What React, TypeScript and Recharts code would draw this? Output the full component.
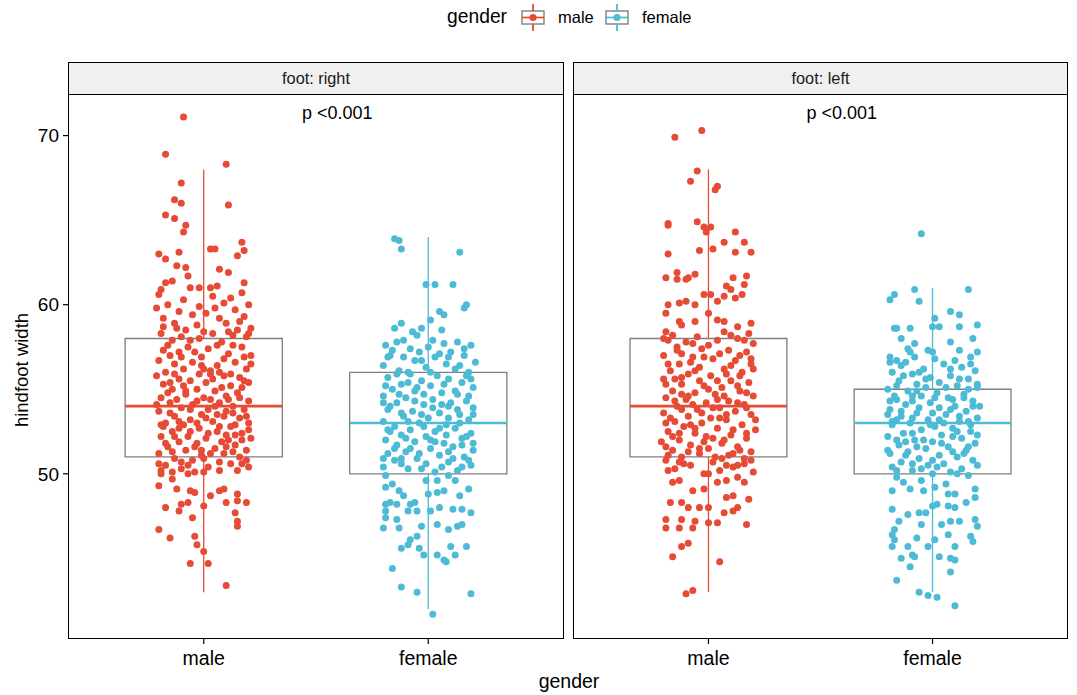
import React from 'react';
import { ComposedChart, Scatter, XAxis, YAxis, ReferenceArea, ReferenceLine, ReferenceDot } from 'recharts';

const FONT = "'Liberation Sans', Arial, Helvetica, sans-serif";
const RED = '#E64B35';
const BLUE = '#4DBBD5';
const BOX_GRAY = '#7F7F7F';

const categories = ['male', 'female'];
const facetLabels = ['foot: right', 'foot: left'];
const yTicks = [50, 60, 70];
const yDomain = [40.29, 72.46];
const pLabel = 'p <0.001';

// box stats: [lower whisker, Q1, median, Q3, upper whisker]
const rightMaleBox = [43, 51, 54, 58, 68];
const rightFemaleBox = [42, 50, 53, 56, 64];
const leftMaleBox = [43, 51, 54, 58, 68];
const leftFemaleBox = [43, 50, 53, 55, 61];

// jittered points: [horizontal jitter (category units), hindfoot width]
const rightMalePts: number[][] = [
  [-0.09,71.1],[-0.17,68.9],[0.10,68.3],[-0.10,67.2],[-0.13,66.2],[-0.10,66.0],[0.11,65.9],[-0.17,65.3],[-0.13,65.1],[-0.08,64.7],[-0.09,64.3],[0.17,63.7],[0.18,63.2],[0.03,63.3],[0.05,63.3],[-0.11,63.1],[-0.20,63.0],[0.15,62.9],[-0.17,62.7],[-0.12,62.3],[-0.08,62.2],[0.07,62.1],[-0.07,61.7],[0.11,61.9],[-0.14,61.4],[-0.17,61.3],[0.18,61.3],[-0.19,60.9],[-0.06,61.0],[-0.02,61.0],[0.03,61.0],[0.06,61.1],
  [0.10,43.4],[-0.06,44.7],[0.02,44.7],[0.0,45.4],[-0.03,45.8],[-0.04,46.3],[-0.15,46.2],[-0.20,46.7],[0.15,46.9],[0.15,47.2],[-0.17,48.0],[-0.05,47.4],[0.14,47.7],[-0.11,47.8],[-0.10,48.2],[0.19,48.3],[0.10,48.3],[0.15,48.4],[0.0,48.1],[-0.07,48.3],[-0.20,49.3],[-0.12,49.1],[0.03,48.7],[-0.04,48.9],[-0.06,49.0],[0.15,48.8],[0.07,49.0],[0.09,49.1],[-0.14,49.7],[-0.19,50.0],[-0.19,50.2],[-0.07,50.0],[-0.04,50.1],[0.0,50.1],
  [-0.20,60.6],[-0.09,60.3],[0.04,60.5],[0.12,60.4],[0.17,60.7],
  [-0.16,60.0],[-0.02,59.9],[0.09,60.1],[0.20,60.0],[-0.11,59.6],[0.14,59.7],
  [-0.05,59.4],[0.01,59.5],[0.18,59.3],[-0.18,59.2],[0.07,59.2],
  [-0.13,58.9],[-0.03,58.8],[0.10,58.9],[0.16,59.0],[0.21,58.6],[-0.08,58.5],
  [-0.19,58.3],[0.04,58.3],[0.13,58.2],[-0.02,58.0],[0.19,58.1],[-0.14,57.9],[0.08,57.8],
  [-0.16,57.6],[-0.07,57.5],[0.02,57.4],[0.17,57.5],[-0.11,57.2],[0.11,57.1],[0.21,57.0],[-0.01,56.9],
  [-0.20,56.7],[-0.13,56.5],[-0.05,56.6],[0.06,56.4],[0.14,56.6],[-0.09,56.2],[0.03,56.1],[0.19,56.2],[-0.17,56.0],
  [-0.02,55.9],[0.09,55.8],[0.16,55.7],[-0.11,55.6],[-0.06,55.5],[0.01,55.4],[0.20,55.4],[-0.18,55.3],[0.12,55.2],
  [-0.14,55.0],[-0.03,55.0],[0.05,54.9],[0.15,54.8],[-0.08,54.7],[0.10,54.6],[-0.19,54.5],[0.00,54.5],[0.20,54.3],
  [-0.15,54.2],[-0.05,54.1],[0.07,54.2],[0.13,54.0],[-0.10,53.9],[0.02,53.8],[0.18,53.8],[-0.20,53.7],[-0.01,53.5],
  [-0.13,53.4],[0.09,53.4],[0.16,53.3],[-0.06,53.2],[0.04,53.1],[-0.17,53.0],[0.20,53.0],[-0.09,52.9],[0.12,52.8],
  [-0.02,52.7],[-0.14,52.5],[0.06,52.5],[0.17,52.4],[-0.19,52.2],[-0.07,52.2],[0.01,52.1],[0.11,52.0],[0.21,52.1],
  [-0.11,51.9],[-0.03,51.8],[0.14,51.7],[-0.16,51.6],[0.05,51.5],[0.19,51.4],[-0.08,51.4],[-0.20,51.2],[0.09,51.2],
  [-0.01,51.1],[0.16,51.0],[-0.13,50.9],[-0.05,50.8],[0.07,50.7],[0.12,50.6],[-0.17,50.5],[0.20,50.4],[0.02,50.4],[-0.10,50.3],[0.15,50.2],
  [-0.18,58.7],[0.00,58.4],[0.15,58.5],[-0.10,58.1],[0.06,57.6],[-0.04,57.2],[0.18,56.9],[-0.15,57.0],[0.09,56.8],[-0.01,56.4],[0.12,55.9],[-0.13,55.9],[0.04,55.6],[-0.21,55.8],[0.17,55.1],[-0.09,55.2],[0.08,55.1],[-0.16,54.8],[0.03,54.4],[-0.12,54.4],[0.16,54.5],[-0.06,53.8],[0.10,53.7],[-0.15,53.6],[0.06,53.5],[-0.03,53.0],[0.14,52.9],[-0.11,52.7],[0.02,52.4],[-0.18,52.8],[0.10,52.3],[-0.04,51.6],[0.17,52.0],[-0.14,51.3],[0.08,51.9],[0.00,50.9],[0.19,50.8],[-0.20,50.6],[-0.07,50.5],[0.13,51.3],
  [-0.21,59.8],[0.05,59.8],[-0.12,58.6],[0.11,58.4],[-0.06,57.9],[0.20,58.3],[-0.18,57.3],[0.13,57.6],[0.00,56.2],[-0.10,56.9],[0.07,56.0],[0.21,56.5],[-0.15,55.4],[0.03,55.9],[0.18,55.5],[-0.08,54.9],[0.11,54.4],[-0.21,54.1],[0.05,54.0],[-0.03,54.3],[0.19,53.4],[-0.11,53.1],[0.01,53.3],[0.13,53.6],[-0.19,52.9],[0.07,52.8],[-0.06,52.5],[0.20,52.6],[-0.13,52.2],[0.14,52.3],[-0.01,51.4],[0.10,51.6],[-0.17,51.8],[0.03,51.2],[-0.10,50.7],[0.17,50.6],[0.07,50.2],[-0.14,50.1],
];

const rightFemalePts: number[][] = [
  [-0.15,63.9],[-0.13,63.8],[-0.12,63.3],[0.14,63.1],[-0.01,61.2],[0.03,61.2],[0.11,61.2],[0.17,60.0],[0.16,59.8],[0.05,59.6],[0.07,59.4],[0.01,59.1],[0.06,58.5],[-0.12,58.9],[-0.15,58.6],[-0.07,58.4],[-0.05,58.2],[-0.03,58.6],
  [0.02,41.7],[-0.05,43.0],[-0.12,43.3],[0.19,42.9],[-0.16,44.4],[0.08,44.8],[0.07,44.9],[0.04,45.2],[0.12,45.2],[-0.02,45.2],[-0.12,45.6],[-0.09,45.8],[-0.08,46.1],[-0.05,46.3],[-0.04,45.6],[0.10,45.7],[0.17,45.7],
  [-0.20,46.8],[-0.13,46.8],[-0.03,46.9],[0.04,47.0],[0.09,46.7],[0.13,46.9],[0.15,47.0],[0.19,47.7],[-0.19,47.4],[-0.19,47.8],[-0.14,47.3],[-0.09,47.8],[-0.05,47.8],[0.01,47.8],[0.05,48.0],[0.11,47.9],[0.15,47.9],
  [0.18,49.1],[0.14,48.7],[-0.19,48.2],[-0.17,48.3],[-0.14,48.2],[-0.08,48.2],[-0.06,48.3],[-0.13,49.0],[-0.11,48.7],[0.00,48.8],[0.04,48.9],[0.07,49.0],[-0.19,49.2],[-0.16,49.4],[-0.01,49.6],[0.04,49.6],[0.09,49.9],
  [-0.19,57.6],[-0.14,57.8],[-0.08,57.4],[0.00,57.5],[0.07,57.7],[0.13,57.8],[0.19,57.6],[-0.04,57.2],[0.10,57.2],
  [-0.17,57.0],[-0.11,56.9],[0.03,56.9],[0.16,57.0],[-0.06,56.7],[0.21,56.6],[0.08,56.5],[-0.20,56.4],[-0.01,56.3],
  [-0.13,56.1],[0.12,56.2],[0.18,56.0],[-0.08,55.9],[0.04,55.8],[-0.18,55.7],[0.09,55.6],[-0.03,55.5],[0.15,55.4],[-0.12,55.3],
  [0.01,55.2],[0.20,55.1],[-0.16,55.0],[-0.06,54.9],[0.06,54.8],[0.13,54.7],[-0.20,54.6],[-0.10,54.5],[0.02,54.4],[0.17,54.3],
  [-0.14,54.2],[-0.02,54.1],[0.09,54.0],[0.20,53.9],[-0.18,53.8],[-0.07,53.7],[0.05,53.6],[0.14,53.5],[-0.11,53.4],[0.00,53.3],
  [0.18,53.2],[-0.20,53.1],[-0.04,53.0],[0.08,52.9],[-0.15,52.8],[0.12,52.7],[-0.08,52.6],[0.03,52.5],[0.19,52.4],[-0.12,52.3],
  [-0.01,52.2],[0.15,52.1],[-0.19,52.0],[-0.06,51.9],[0.07,51.8],[-0.14,51.7],[0.11,51.6],[0.01,51.5],[0.20,51.4],[-0.10,51.3],
  [-0.18,51.2],[0.05,51.1],[0.16,51.0],[-0.05,50.9],[-0.15,50.8],[0.09,50.7],[-0.01,50.6],[0.19,50.5],[-0.20,50.4],[-0.09,50.3],[0.13,50.2],[0.03,50.1],
  [-0.16,57.3],[0.05,57.1],[-0.09,56.0],[0.17,55.8],[-0.05,55.1],[0.10,54.2],[-0.17,54.0],[0.02,53.9],[-0.09,53.1],[0.14,53.0],[-0.02,52.8],[0.08,52.3],[-0.17,52.5],[-0.08,51.5],[0.15,51.7],[0.03,51.9],[-0.12,50.6],[0.11,50.9],[-0.03,50.3],[0.18,50.8],[-0.19,49.9],[0.12,49.6],
  [-0.11,57.9],[0.02,57.9],[0.16,57.4],[-0.18,56.9],[0.09,56.9],[-0.03,56.7],[0.14,56.4],[-0.14,55.9],[0.01,56.0],[0.19,55.6],[-0.09,55.4],[0.07,55.3],[-0.19,55.2],[0.12,54.9],[-0.02,54.7],[-0.13,54.7],[0.18,54.6],[0.06,54.1],[-0.06,54.3],[-0.20,54.2],[0.13,53.8],[-0.12,53.6],[0.09,53.3],[-0.03,53.5],[0.20,53.5],[-0.18,52.6],[0.05,52.7],[-0.10,52.1],[0.17,52.2],[0.01,52.0],[-0.15,51.5],[0.09,51.3],[-0.04,51.2],[0.20,51.8],[-0.12,50.9],[0.06,50.4],[-0.20,50.9],[0.15,50.4],
];

const leftMalePts: number[][] = [
  [-0.15,69.9],[-0.03,70.3],[-0.05,67.9],[-0.08,67.3],[0.04,67.0],[0.03,66.8],[-0.18,64.8],[-0.18,64.7],[-0.05,64.9],[-0.02,64.6],[0.01,64.6],[-0.01,64.3],[0.12,64.3],[-0.18,63.0],[-0.04,63.2],[0.02,63.3],[0.07,63.7],[0.12,63.1],[0.16,63.7],[0.19,63.1],
  [-0.14,61.9],[-0.14,61.5],[-0.19,61.6],[-0.10,61.5],[-0.09,61.6],[-0.06,61.8],[0.11,61.6],[0.17,61.7],[0.08,61.1],[0.10,60.9],[0.16,61.2],[-0.02,60.6],[0.01,60.6],[-0.18,60.0],[-0.13,60.1],[-0.19,59.5],[-0.10,60.2],[-0.06,60.0],[0.04,60.2],[0.07,60.5],[0.12,60.4],[0.15,60.6],[0.00,59.5],[-0.13,59.0],[-0.12,58.8],[-0.06,59.0],[0.04,59.1],[0.07,59.0],[0.13,58.7],[0.19,58.9],[-0.19,58.4],
  [-0.10,42.9],[-0.07,43.1],[0.05,44.8],[-0.16,45.1],[-0.12,45.7],[-0.09,45.9],[-0.19,46.8],[-0.19,47.3],[-0.13,46.8],[-0.12,47.3],[-0.07,46.8],[-0.06,47.2],[0.00,47.1],[0.04,47.1],[0.17,47.0],[0.07,47.7],[0.11,47.8],[0.13,48.0],[-0.09,48.0],[-0.04,48.0],[0.00,48.0],[-0.17,48.3],[-0.12,48.3],[-0.02,49.1],[-0.07,49.0],[0.08,48.6],[0.11,48.7],[0.18,48.5],[-0.16,49.5],[-0.13,49.6],[0.04,49.5],[0.08,49.6],[0.13,49.8],[0.16,49.5],[-0.18,50.2],[0.00,50.0],[0.13,50.5],[0.19,50.8],
  [-0.18,57.9],[-0.10,57.8],[0.04,57.9],[0.13,58.0],[0.20,57.7],[-0.14,57.5],[-0.03,57.4],[0.09,57.3],[0.17,57.2],[-0.20,57.0],[-0.07,56.9],[0.02,56.8],[0.12,56.7],[-0.13,56.5],[0.19,56.5],[-0.04,56.3],[0.07,56.2],[-0.17,56.1],[0.15,56.0],[-0.09,55.9],[0.01,55.8],[-0.20,55.6],[0.10,55.5],[0.18,55.4],[-0.12,55.3],[-0.02,55.2],[0.06,55.1],[-0.16,54.9],[0.14,54.9],[-0.06,54.8],[0.03,54.7],[0.20,54.6],[-0.19,54.5],[-0.10,54.4],[0.09,54.3],[-0.01,54.2],[0.16,54.1],[-0.14,54.0],[0.05,53.9],[-0.05,53.8],[0.12,53.7],[-0.20,53.6],[0.19,53.5],[-0.09,53.4],[0.01,53.3],[0.08,53.2],[-0.15,53.1],[-0.03,53.0],[0.15,52.9],[-0.11,52.8],[0.04,52.7],[0.21,52.6],[-0.18,52.5],[-0.06,52.4],[0.10,52.3],[-0.01,52.2],[0.17,52.1],[-0.13,52.0],[-0.21,51.9],[0.06,51.8],[-0.08,51.7],[0.13,51.6],[0.00,51.5],[-0.16,51.4],[0.19,51.3],[-0.04,51.2],[0.09,51.1],[-0.12,51.0],[0.16,50.9],[-0.19,50.8],[0.02,50.7],[-0.08,50.5],[0.11,50.4],[-0.15,50.3],[0.05,50.2],[-0.02,50.0],
  [-0.16,58.2],[0.07,58.4],[-0.05,58.1],[0.18,58.3],[-0.12,57.1],[0.00,57.6],[0.14,57.0],[-0.08,56.6],[0.08,55.9],[-0.15,55.6],[0.14,55.8],[-0.04,55.5],[0.04,54.4],[-0.12,54.7],[0.17,53.9],[-0.07,54.1],[0.08,53.5],[-0.17,53.3],[0.11,52.6],[-0.08,52.9],[0.02,52.1],[-0.16,52.2],[0.14,51.4],[-0.02,51.9],[-0.18,51.1],[0.06,50.9],[0.20,50.1],[-0.11,50.6],
  [-0.20,58.0],[0.10,58.2],[-0.07,57.7],[0.16,57.9],[-0.14,57.3],[0.05,57.1],[0.19,56.8],[-0.02,56.9],[-0.18,56.5],[0.10,56.4],[-0.06,56.1],[0.20,56.2],[-0.12,55.7],[0.04,55.5],[0.13,55.2],[-0.19,55.3],[0.00,55.0],[-0.09,54.6],[0.17,54.8],[0.07,54.6],[-0.15,54.3],[0.13,54.2],[-0.03,53.6],[0.02,53.9],[-0.12,53.8],[0.21,53.2],[-0.19,53.0],[0.05,53.3],[-0.06,52.7],[0.17,52.4],[-0.13,52.4],[0.07,52.0],[-0.04,51.5],[0.11,51.2],[-0.19,51.6],[0.03,51.0],[-0.09,51.3],[0.16,50.6],[-0.13,50.7],[0.08,50.5],
];

const leftFemalePts: number[][] = [
  [-0.05,64.2],[-0.19,60.3],[-0.17,60.6],[-0.08,60.9],[-0.06,60.2],[0.16,60.9],[0.08,59.6],[0.12,59.4],[0.12,58.7],[0.20,58.8],[0.01,59.2],[0.03,58.7],[0.00,58.7],[-0.17,58.6],[-0.16,58.6],[-0.14,58.0],[-0.10,58.6],[-0.08,57.7],[0.18,58.0],[0.08,57.8],[-0.11,57.4],[-0.10,57.2],[0.00,57.2],[-0.02,57.3],[0.12,57.3],[0.20,57.2],[-0.19,56.9],[-0.16,56.7],[-0.08,56.9],[0.17,56.9],
  [0.10,42.2],[-0.06,43.0],[-0.02,42.8],[0.02,42.7],[-0.16,43.7],[0.08,44.2],[-0.14,45.0],[-0.10,44.5],[-0.09,45.2],[-0.08,45.1],[0.03,45.1],[0.08,45.0],[0.10,44.9],[-0.18,45.7],[-0.17,46.1],[-0.11,45.7],[-0.07,46.2],[-0.02,45.7],[0.01,46.1],[0.07,46.4],[0.10,45.7],[0.17,46.3],[0.18,46.0],[-0.17,46.7],[-0.18,46.4],[-0.05,47.0],[0.04,47.0],[0.08,47.2],[0.12,47.2],[0.20,46.9],[-0.15,47.2],[-0.11,47.6],[-0.06,47.7],[-0.03,47.7],[0.19,47.3],[-0.18,47.9],[0.07,48.1],[0.10,48.0],[0.15,48.3],[0.02,48.2],[0.00,48.1],[-0.04,49.0],[0.01,49.2],[-0.18,49.0],[-0.13,49.5],[0.07,48.8],[0.10,48.8],[0.19,49.1],[0.19,48.6],[-0.10,49.1],
  [-0.14,56.4],[0.05,56.5],[0.13,56.3],[-0.04,56.2],[0.19,56.1],[-0.18,56.0],[-0.09,55.9],[0.08,55.8],[-0.01,55.7],[0.16,55.6],[-0.15,55.5],[0.03,55.4],[-0.07,55.3],[0.11,55.2],[0.20,55.1],[-0.20,55.0],[-0.11,54.9],[0.02,54.8],[0.14,54.7],[-0.05,54.6],[0.07,54.5],[-0.16,54.4],[0.18,54.3],[-0.01,54.2],[-0.12,54.1],[0.10,54.0],[0.03,53.9],[-0.19,53.8],[0.15,53.7],[-0.07,53.6],[0.06,53.5],[-0.14,53.4],[0.20,53.3],[-0.02,53.2],[0.12,53.1],[-0.10,53.0],[-0.18,52.9],[0.01,52.8],[0.09,52.7],[-0.05,52.6],[0.17,52.5],[-0.13,52.4],[0.04,52.3],[-0.20,52.2],[0.13,52.1],[-0.08,52.0],[0.00,51.9],[0.19,51.8],[-0.15,51.7],[0.07,51.6],[-0.03,51.5],[0.15,51.4],[-0.11,51.3],[-0.19,51.2],[0.03,51.1],[0.11,51.0],[-0.06,50.9],[0.18,50.8],[-0.14,50.7],[0.05,50.6],[-0.02,50.5],[-0.18,50.4],[0.13,50.3],[-0.09,50.2],[0.08,50.1],[0.00,50.0],[0.16,49.9],[-0.16,49.8],[-0.05,49.6],[0.06,49.4],
  [-0.12,56.6],[0.10,56.7],[-0.03,55.1],[0.16,55.0],[-0.17,54.6],[0.09,54.4],[-0.09,54.3],[0.00,53.6],[-0.16,53.2],[0.17,52.9],[-0.04,52.0],[0.09,52.2],[-0.12,51.9],[0.14,51.2],[-0.09,50.6],[0.02,50.4],[-0.20,53.5],[0.21,54.0],[-0.07,54.9],[0.05,53.0],
  [-0.19,56.6],[0.01,56.8],[0.17,56.5],[-0.06,56.0],[0.08,56.2],[-0.13,55.8],[0.12,55.6],[-0.03,55.6],[0.20,55.3],[-0.16,55.2],[0.06,55.1],[-0.09,54.6],[0.14,54.5],[-0.19,54.3],[0.01,54.5],[0.18,54.0],[-0.06,53.9],[0.08,53.8],[-0.14,53.7],[0.12,53.4],[-0.09,53.3],[0.03,53.2],[-0.18,53.1],[0.16,53.1],[-0.01,52.9],[0.11,52.5],[-0.09,52.4],[0.20,52.3],[-0.16,52.0],[0.04,51.8],[-0.07,51.6],[0.16,51.6],[-0.20,51.4],[0.09,51.3],[-0.12,51.1],[0.00,50.8],[0.20,50.5],[-0.16,50.2],[0.11,50.0],[-0.05,50.3],
];

const BOX_HALF = 0.35;

type Group = { cat: number; color: string; box: number[]; pts: number[][] };

const Dot = (color: string) => (props: any) => (
  <circle cx={props.cx} cy={props.cy} r={3.5} fill={color} stroke="none" />
);

const PText = (props: any) => (
  <text x={props.cx} y={props.cy} textAnchor="middle" dominantBaseline="central" fontSize={18} fontFamily={FONT} fill="#000">
    {pLabel}
  </text>
);

function Panel({ left, width, margin, showY, strip, groups }: { left: number; width: number; margin: any; showY: boolean; strip: string; groups: Group[] }) {
  const plotLeft = left + margin.left + (showY ? 69 : 0);
  const plotRight = left + width - margin.right;
  return (
    <>
      <div style={{ position: 'absolute', left, top: 0 }}>
        <ComposedChart width={width} height={695} margin={margin}>
          <XAxis
            type="number"
            dataKey="x"
            domain={[0.4, 2.6]}
            ticks={[1, 2]}
            allowDataOverflow
            tickFormatter={(v: number) => categories[Math.round(v) - 1]}
            tick={{ fill: '#000', fontSize: 19.5, fontFamily: FONT }}
            tickLine={{ stroke: '#000', strokeWidth: 1.2 }}
            axisLine={false}
            tickSize={6}
            tickMargin={7}
            height={30}
          />
          <YAxis
            type="number"
            dataKey="y"
            domain={yDomain}
            ticks={yTicks}
            allowDataOverflow
            hide={!showY}
            width={69}
            tick={{ fill: '#000', fontSize: 19, fontFamily: FONT }}
            tickLine={{ stroke: '#000', strokeWidth: 1.2 }}
            axisLine={false}
            tickSize={6}
            tickMargin={4}
          />
          {groups.map((g) => (
            <ReferenceLine key={'wu' + g.cat} segment={[{ x: g.cat, y: g.box[3] }, { x: g.cat, y: g.box[4] }]} stroke={g.color} strokeWidth={1.3} ifOverflow="visible" />
          ))}
          {groups.map((g) => (
            <ReferenceLine key={'wl' + g.cat} segment={[{ x: g.cat, y: g.box[0] }, { x: g.cat, y: g.box[1] }]} stroke={g.color} strokeWidth={1.3} ifOverflow="visible" />
          ))}
          {groups.map((g) => (
            <ReferenceArea key={'b' + g.cat} x1={g.cat - BOX_HALF} x2={g.cat + BOX_HALF} y1={g.box[1]} y2={g.box[3]} fill="none" fillOpacity={0} stroke={BOX_GRAY} strokeWidth={1.3} ifOverflow="visible" />
          ))}
          {groups.map((g) => (
            <Scatter
              key={'s' + g.cat}
              data={g.pts.map(([dx, y]) => ({ x: g.cat + dx, y }))}
              dataKey="y"
              fill={g.color}
              shape={Dot(g.color)}
              isAnimationActive={false}
            />
          ))}
          {groups.map((g) => (
            <ReferenceLine key={'m' + g.cat} segment={[{ x: g.cat - BOX_HALF, y: g.box[2] }, { x: g.cat + BOX_HALF, y: g.box[2] }]} stroke={g.color} strokeWidth={2.6} ifOverflow="visible" />
          ))}
          <ReferenceDot x={1.595} y={71.34} r={0} shape={PText} ifOverflow="visible" />
        </ComposedChart>
      </div>
      {/* panel border */}
      <div style={{ position: 'absolute', left: plotLeft - 0.75, top: 93.25, width: plotRight - plotLeft + 1.5, height: 638 - 94 + 1.5, border: '1.5px solid #000', boxSizing: 'border-box', pointerEvents: 'none' }} />
      {/* strip */}
      <div style={{ position: 'absolute', left: plotLeft - 0.75, top: 61.5, width: plotRight - plotLeft + 1.5, height: 33.25, border: '1.5px solid #000', boxSizing: 'border-box', background: '#F0F0F0', display: 'flex', alignItems: 'center', justifyContent: 'center', fontFamily: FONT, fontSize: 16.3, color: '#1a1a1a' }}>
        {strip}
      </div>
    </>
  );
}

const LegendKey = ({ color }: { color: string }) => (
  <svg width={24} height={27} style={{ display: 'block' }}>
    <line x1={12} y1={0} x2={12} y2={27} stroke={color} strokeWidth={1.4} />
    <rect x={1} y={7} width={22} height={13} fill="#fff" stroke={BOX_GRAY} strokeWidth={1.4} />
    <line x1={12} y1={0} x2={12} y2={7} stroke={color} strokeWidth={1.4} />
    <line x1={12} y1={20} x2={12} y2={27} stroke={color} strokeWidth={1.4} />
    <line x1={1} y1={13.5} x2={23} y2={13.5} stroke={color} strokeWidth={1.7} />
    <circle cx={12} cy={13.5} r={3.6} fill={color} />
  </svg>
);

export default function App() {
  const rightGroups: Group[] = [
    { cat: 1, color: RED, box: rightMaleBox, pts: rightMalePts },
    { cat: 2, color: BLUE, box: rightFemaleBox, pts: rightFemalePts },
  ];
  const leftGroups: Group[] = [
    { cat: 1, color: RED, box: leftMaleBox, pts: leftMalePts },
    { cat: 2, color: BLUE, box: leftFemaleBox, pts: leftFemalePts },
  ];
  return (
    <div style={{ position: 'absolute', left: 0, top: 0, width: 1077, height: 695, background: '#fff', overflow: 'hidden', fontFamily: FONT }}>
      <Panel left={0} width={566} margin={{ top: 94, right: 3, bottom: 27, left: 0 }} showY strip={facetLabels[0]} groups={rightGroups} />
      <Panel left={560} width={517} margin={{ top: 94, right: 10, bottom: 27, left: 14 }} showY={false} strip={facetLabels[1]} groups={leftGroups} />

      {/* y-axis title */}
      <div style={{ position: 'absolute', left: 22, top: 370, transform: 'translate(-50%, -50%) rotate(-90deg)', whiteSpace: 'nowrap', fontSize: 18.5, color: '#000' }}>
        hindfoot width
      </div>
      {/* x-axis title */}
      <div style={{ position: 'absolute', left: 569, top: 681, transform: 'translate(-50%, -50%)', whiteSpace: 'nowrap', fontSize: 19.5, color: '#000' }}>
        gender
      </div>

      {/* legend */}
      <div style={{ position: 'absolute', left: 447, top: 17, transform: 'translateY(-50%)', fontSize: 19.3, color: '#000', whiteSpace: 'nowrap' }}>gender</div>
      <div style={{ position: 'absolute', left: 521, top: 4 }}><LegendKey color={RED} /></div>
      <div style={{ position: 'absolute', left: 558, top: 17, transform: 'translateY(-50%)', fontSize: 16.5, color: '#000', whiteSpace: 'nowrap' }}>{categories[0]}</div>
      <div style={{ position: 'absolute', left: 605, top: 4 }}><LegendKey color={BLUE} /></div>
      <div style={{ position: 'absolute', left: 642, top: 17, transform: 'translateY(-50%)', fontSize: 16.5, color: '#000', whiteSpace: 'nowrap' }}>{categories[1]}</div>
    </div>
  );
}
